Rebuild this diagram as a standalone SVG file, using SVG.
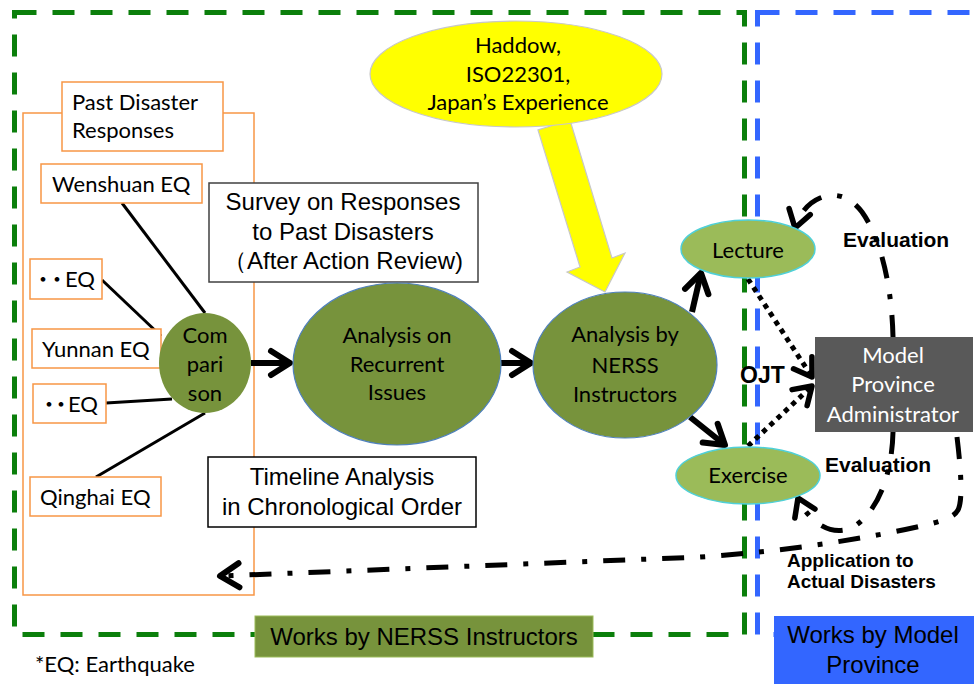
<svg xmlns="http://www.w3.org/2000/svg" width="974" height="684" viewBox="0 0 974 684">
<style>
.cal{font-family:Lato,"Noto Sans CJK JP",sans-serif;font-size:22px;fill:#000}
.ari{font-family:"Liberation Sans",Arial,sans-serif;font-size:24px;fill:#000}
.bld{font-family:"Liberation Sans",Arial,sans-serif;font-weight:bold;fill:#000}
.mid{text-anchor:middle}
.ob{fill:#fff;stroke:#f79646;stroke-width:1.5}
.olive{fill:#77933c;stroke:#4f81bd;stroke-width:1.2}
.lg{fill:#9bbb59;stroke:#4fd0d8;stroke-width:1.5}
.ln{stroke:#000;stroke-width:3;fill:none}
.thick{stroke:#000;stroke-width:6;fill:none}
.dot{stroke:#000;stroke-width:5;fill:none;stroke-dasharray:5 5}
.dd{stroke:#000;stroke-width:5;fill:none;stroke-dasharray:22 16 5 16}
</style>
<defs>
<marker id="chev" viewBox="-26 -17 32 34" refX="0" refY="0" markerWidth="32" markerHeight="34" markerUnits="userSpaceOnUse" orient="auto">
<path d="M-19,-12 L0,0 L-19,12" fill="none" stroke="#000" stroke-width="6" stroke-linecap="round" stroke-linejoin="round"/>
</marker>
<marker id="chevs" viewBox="-26 -17 32 34" refX="0" refY="0" markerWidth="32" markerHeight="34" markerUnits="userSpaceOnUse" orient="auto">
<path d="M-17,-11 L0,0 L-17,11" fill="none" stroke="#000" stroke-width="5.5" stroke-linecap="round" stroke-linejoin="round"/>
</marker>
</defs>
<rect width="974" height="684" fill="#fff"/>

<g id="frames">
<rect x="14.5" y="12.5" width="730" height="622" fill="none" stroke="#0b7f0b" stroke-width="5" stroke-dasharray="22 16"/>
<rect x="757.5" y="12.5" width="240" height="622" fill="none" stroke="#3366ff" stroke-width="5" stroke-dasharray="22 16"/>
</g>

<g id="past-disasters">
<rect x="23" y="113" width="231" height="482" fill="none" stroke="#f79646" stroke-width="1.5"/>
<rect class="ob" x="62" y="82" width="161" height="69"/>
<text class="cal" x="72" y="110">Past Disaster</text>
<text class="cal" x="72" y="138">Responses</text>
</g>

<g id="connectors">
<line class="ln" x1="122" y1="203" x2="205" y2="313"/>
<line class="ln" x1="102" y1="280" x2="161" y2="336"/>
<line class="ln" x1="161" y1="349" x2="164" y2="353"/>
<line class="ln" x1="106" y1="403" x2="172" y2="399"/>
<line class="ln" x1="96" y1="477" x2="205" y2="413"/>
<polygon points="538,130 580,267 567,272 605,292 625,253 612,258 570,120" fill="#ffff00" stroke="#c8c8c8" stroke-width="1.2"/>
<line class="thick" x1="251" y1="363" x2="290" y2="363" marker-end="url(#chev)"/>
<line class="thick" x1="501" y1="363" x2="531" y2="363" marker-end="url(#chev)"/>
<line class="thick" x1="692" y1="312" x2="701" y2="273" marker-end="url(#chev)"/>
<line class="thick" x1="690" y1="417" x2="725" y2="445" marker-end="url(#chev)"/>
<line class="dot" x1="748" y1="279" x2="812" y2="377" marker-end="url(#chevs)"/>
<line class="dot" x1="748" y1="446" x2="812" y2="386" marker-end="url(#chevs)"/>
<path class="dd" d="M893,337 C892,290 882,240 862,212 C850,196 835,192 820,198 C808,203 799,214 795,228" marker-end="url(#chevs)"/>
<path class="dd" d="M893,432 C892,475 878,510 855,526 C835,538 810,525 798,498" marker-end="url(#chevs)"/>
<path class="dd" d="M957,437 C961,470 963,500 958,510 C954,517 945,520 930,524 C870,538 790,551 700,557 L220,576" marker-end="url(#chev)"/>
</g>

<g id="wenshuan">
<rect class="ob" x="41" y="164" width="161" height="39"/>
<text class="cal" x="52" y="192">Wenshuan EQ</text>
</g>
<g id="eq1">
<rect class="ob" x="30" y="259" width="72" height="40"/>
<text class="cal" x="32 46 65" y="287">・・EQ</text>
</g>
<g id="yunnan">
<rect class="ob" x="32" y="329" width="129" height="39"/>
<text class="cal" x="42" y="357">Yunnan EQ</text>
</g>
<g id="eq2">
<rect class="ob" x="33" y="384" width="73" height="39"/>
<text class="cal" x="38 50 68" y="412">・・EQ</text>
</g>
<g id="qinghai">
<rect class="ob" x="30" y="477" width="131" height="39"/>
<text class="cal" x="40" y="505">Qinghai EQ</text>
</g>

<g id="comparison">
<ellipse cx="205" cy="363" rx="46" ry="50" fill="#77933c"/>
<text class="cal mid" x="205" y="343">Com</text>
<text class="cal mid" x="205" y="372">pari</text>
<text class="cal mid" x="205" y="401">son</text>
</g>

<g id="survey">
<rect x="209" y="183" width="269" height="99" fill="#fff" stroke="#404040" stroke-width="1.5"/>
<text class="ari mid" x="343" y="210">Survey on Responses</text>
<text class="ari mid" x="343" y="240">to Past Disasters</text>
<text class="ari mid" x="343" y="269">（After Action Review)</text>
</g>

<g id="timeline">
<rect x="208" y="457" width="268" height="70" fill="#fff" stroke="#000" stroke-width="1.5"/>
<text class="ari mid" x="342" y="485">Timeline Analysis</text>
<text class="ari mid" x="342" y="515">in Chronological Order</text>
</g>

<g id="recurrent">
<ellipse class="olive" cx="397" cy="364" rx="104" ry="81"/>
<text class="cal mid" x="397" y="343">Analysis on</text>
<text class="cal mid" x="397" y="372">Recurrent</text>
<text class="cal mid" x="397" y="400">Issues</text>
</g>

<g id="nerss">
<ellipse class="olive" cx="625" cy="365" rx="92" ry="73"/>
<text class="cal mid" x="625" y="342">Analysis by</text>
<text class="cal mid" x="625" y="373">NERSS</text>
<text class="cal mid" x="625" y="402">Instructors</text>
</g>

<g id="haddow">
<ellipse cx="516" cy="74" rx="146" ry="53" fill="#ffff00" stroke="#c8c8c8" stroke-width="1.2"/>
<text class="cal mid" x="518" y="53">Haddow,</text>
<text class="cal mid" x="518" y="82">ISO22301,</text>
<text class="cal mid" x="518" y="110">Japan’s Experience</text>
</g>

<g id="lecture">
<ellipse class="lg" cx="748" cy="249" rx="67" ry="29"/>
<text class="cal mid" x="748" y="258">Lecture</text>
</g>

<g id="exercise">
<ellipse class="lg" cx="748" cy="475.5" rx="72" ry="28.5"/>
<text class="cal mid" x="748" y="483">Exercise</text>
</g>

<g id="model-province">
<rect x="815" y="337" width="158" height="95" fill="#595959"/>
<text class="cal mid" x="893" y="363" style="fill:#fff">Model</text>
<text class="cal mid" x="893" y="392" style="fill:#fff">Province</text>
<text class="cal mid" x="893" y="422" style="fill:#fff">Administrator</text>
</g>

<g id="labels">
<text class="bld" x="740" y="383" font-size="23">OJT</text>
<text class="bld" x="843" y="247" font-size="21">Evaluation</text>
<text class="bld" x="825" y="472" font-size="21">Evaluation</text>
<text class="bld" x="787" y="567" font-size="19">Application to</text>
<text class="bld" x="787" y="588" font-size="19">Actual Disasters</text>
<text class="cal" x="35" y="672">*EQ: Earthquake</text>
</g>

<g id="title-nerss">
<rect x="255" y="616" width="338" height="41" fill="#77933c" stroke="#9bbb59" stroke-width="1"/>
<text class="ari mid" x="424" y="645">Works by NERSS Instructors</text>
</g>

<g id="title-model">
<rect x="774" y="616" width="200" height="68" fill="#3366ff"/>
<text class="ari mid" x="873" y="643">Works by Model</text>
<text class="ari mid" x="873" y="673">Province</text>
</g>
</svg>
